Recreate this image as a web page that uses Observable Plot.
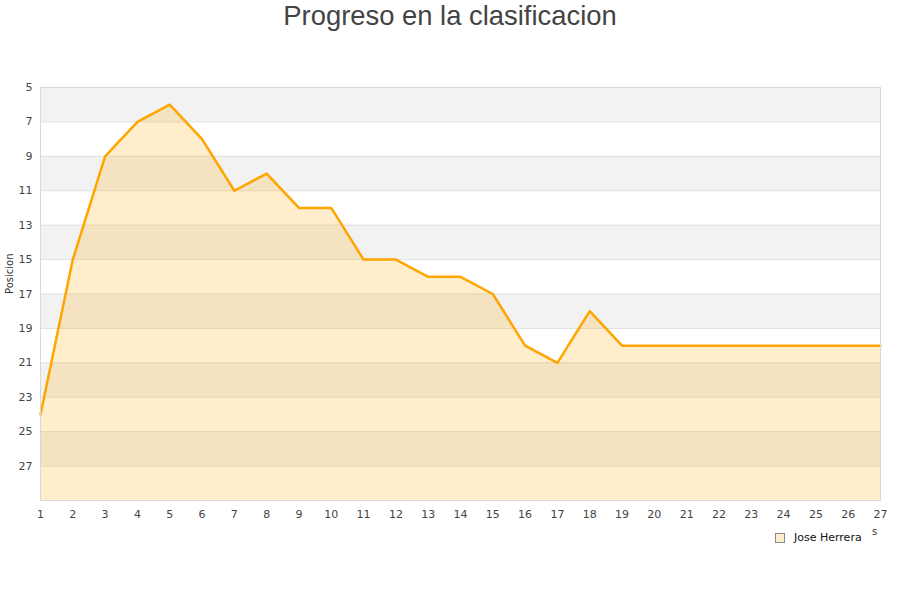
<!DOCTYPE html>
<html>
<head>
<meta charset="utf-8">
<script src="https://cdn.jsdelivr.net/npm/d3@7"></script>
<script src="https://cdn.jsdelivr.net/npm/@observablehq/plot@0.6"></script>
<style>
  body { margin: 0; background: #fff; width: 900px; height: 600px; position: relative; overflow: hidden; }
  #title { position: absolute; left: 0; top: 0; width: 900px; text-align: center; font-family: "Liberation Sans", Arial, sans-serif; font-size: 27.4px; color: #444; line-height: 32px; }
  #chart { position: absolute; left: 0; top: 39px; }
  #legend { position: absolute; left: 775px; top: 531px; font-family: "DejaVu Sans", sans-serif; font-size: 11px; color: #111; display: flex; align-items: center; }
  #legend .sw { width: 8px; height: 8px; background: #feefcf; border: 1px solid #888; margin-right: 9px; }
  #stray { position: absolute; left: 872px; top: 527px; font-family: "DejaVu Sans", sans-serif; font-size: 10px; color: #333; line-height: 10px; }
</style>
</head>
<body>
<div id="title">Progreso en la clasificacion</div>
<div id="chart"></div>
<div id="legend"><div class="sw"></div><span>Jose Herrera</span></div>
<div id="stray">s</div>
<script>
const jornadas = d3.range(1, 28);
const posiciones = [24, 15, 9, 7, 6, 8, 11, 10, 12, 12, 15, 15, 16, 16, 17, 20, 21, 18, 20, 20, 20, 20, 20, 20, 20, 20, 20];
const yTicks = [5, 7, 9, 11, 13, 15, 17, 19, 21, 23, 25, 27];
const yDomain = [5, 29];
const serie = "Jose Herrera";

const data = jornadas.map((j, i) => ({jornada: j, pos: posiciones[i], serie}));
const bandas = yTicks.filter((t, i) => i % 2 === 0).map(t => ({y1: t, y2: t + 2}));
const lineas = yTicks.slice(1);

const chart = Plot.plot({
  width: 900,
  height: 520,
  marginTop: 48,
  marginBottom: 59,
  marginLeft: 40,
  marginRight: 20,
  style: {fontFamily: "DejaVu Sans, sans-serif", fontSize: "11px", color: "#444", background: "transparent"},
  x: {domain: [1, 27], ticks: jornadas, tickSize: 0, tickPadding: 10, label: null, tickFormat: d => d},
  y: {domain: yDomain, reverse: true, ticks: yTicks, tickSize: 0, tickPadding: 8, label: null},
  marks: [
    Plot.rect(bandas, {x1: () => 1, x2: () => 27, y1: "y1", y2: "y2", fill: "#f2f2f2"}),
    Plot.ruleY(lineas, {stroke: "#e0e0e0", strokeWidth: 1}),
    Plot.areaY(data, {x: "jornada", y1: () => yDomain[1], y2: "pos", fill: "#ffa500", fillOpacity: 0.2}),
    Plot.line(data, {x: "jornada", y: "pos", stroke: "#ffa500", strokeWidth: 2.5}),
    Plot.frame({stroke: "#d8d8d8"}),
    Plot.text(["Posicion"], {frameAnchor: "left", rotate: -90, dx: -31, fontSize: 10, fill: "#333"})
  ]
});
document.getElementById("chart").appendChild(chart);
</script>
</body>
</html>
